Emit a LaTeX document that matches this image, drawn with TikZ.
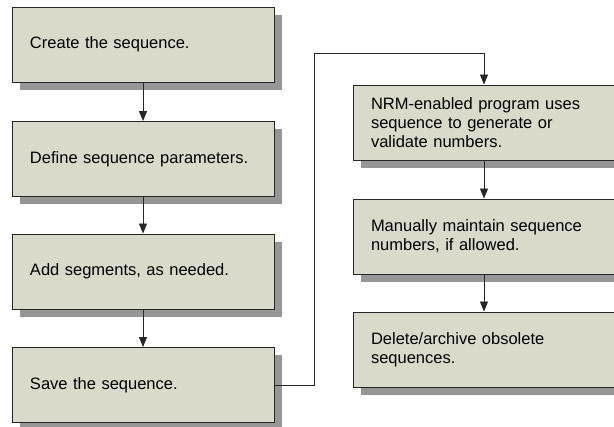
\documentclass[tikz,border=0pt]{standalone}
\usepackage{fontspec}
\setmainfont{Liberation Sans}
\usepackage{xcolor}
\usepackage{tikz}
\usetikzlibrary{arrows.meta,shadows,positioning}
\definecolor{stepfill}{RGB}{217,218,201}
\definecolor{stepshade}{RGB}{150,150,150}
\newcommand{\stepfont}{\fontsize{16.5}{19}\selectfont}

\begin{document}
\begin{tikzpicture}[x=1pt,y=-1pt,
    stepbox/.style={draw=black!85,line width=0.9pt,fill=stepfill,
      minimum width=262pt,minimum height=75pt,inner sep=0pt,
      text width=226pt,align=left,font=\stepfont,
      drop shadow={shadow xshift=8pt,shadow yshift=-8pt,fill=stepshade,opacity=1}},
    flow/.style={draw=black!85,line width=0.9pt,-{Triangle[length=10pt,width=8pt]}}]
  \useasboundingbox (0,0) rectangle (614,427);
  % left column
  \node[stepbox] (create) at (143,44.5) {Create the sequence.};
  \node[stepbox] (define) at (143,159) {Define sequence parameters.};
  \node[stepbox] (segments) at (143,271.5) {Add segments, as needed.};
  \node[stepbox] (save) at (143,385) {Save the sequence.};
  % right column
  \node[stepbox] (nrm) at (484,122.5) {NRM-enabled program uses\\sequence to generate or\\validate numbers.};
  \node[stepbox] (maintain) at (484,236.5) {Manually maintain sequence\\numbers, if allowed.};
  \node[stepbox] (delete) at (484,349.5) {Delete/archive obsolete\\sequences.};
  \coordinate (turn) at (314,53);
  \foreach \from/\to in {create/define,define/segments,segments/save,nrm/maintain,maintain/delete}
    \draw[flow] (\from) -- (\to);
  \draw[flow] (save.east) -| (turn) -| (nrm.north);
\end{tikzpicture}
\end{document}
